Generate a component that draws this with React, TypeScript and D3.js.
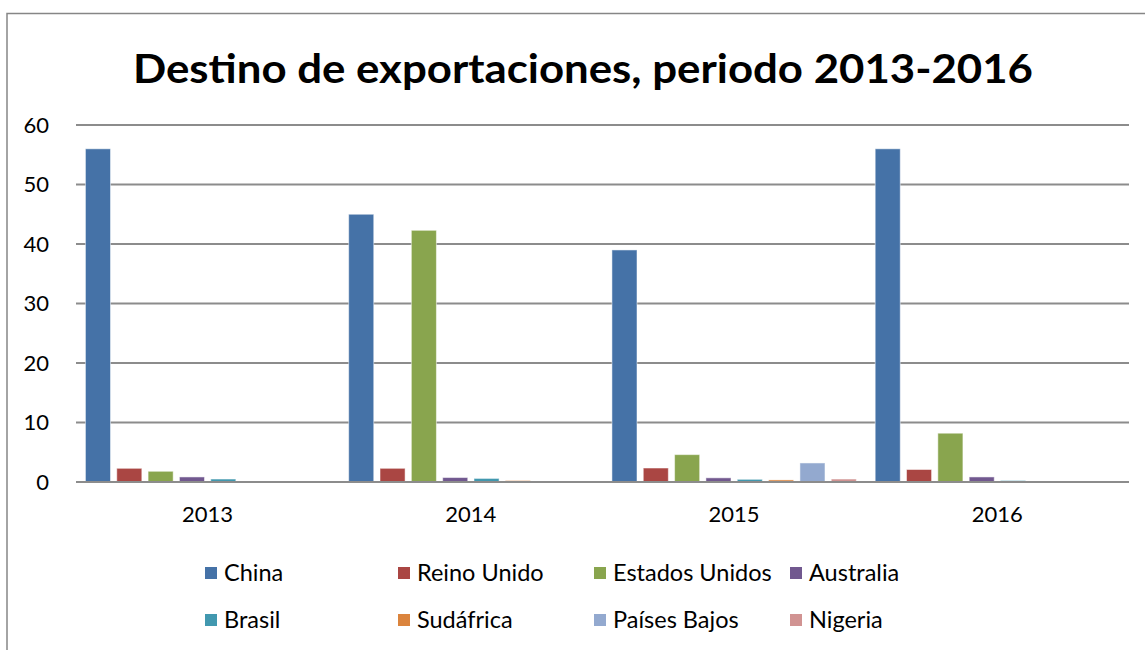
import React from "react";
import * as d3 from "d3";

const years = ["2013", "2014", "2015", "2016"];
const seriesNames = ["China", "Reino Unido", "Estados Unidos", "Australia", "Brasil", "Sudáfrica", "Países Bajos", "Nigeria"];
const china = [56, 45, 39, 56];
const reinoUnido = [2.3, 2.3, 2.35, 2.1];
const estadosUnidos = [1.8, 42.3, 4.6, 8.2];
const australia = [0.85, 0.75, 0.7, 0.85];
const brasil = [0.5, 0.6, 0.45, 0.25];
const sudafrica = [0.15, 0.25, 0.35, 0.15];
const paisesBajos = [0, 0, 3.2, 0];
const nigeria = [0, 0, 0.5, 0];
const yTicks = [0, 10, 20, 30, 40, 50, 60];
const colors = ["#4572A7", "#AA4643", "#89A54E", "#71588F", "#4198AF", "#DB843D", "#93A9CF", "#D19392"];

const seriesValues = [china, reinoUnido, estadosUnidos, australia, brasil, sudafrica, paisesBajos, nigeria];

const W = 1145;
const H = 650;
const plotLeft = 76;
const plotRight = 1129;
const plotTop = 125;
const plotBottom = 482;
const FONT = "Lato, 'Open Sans', sans-serif";

export default function App() {
  const x0 = d3.scaleBand<string>().domain(years).range([plotLeft, plotRight]).paddingInner(0).paddingOuter(0);
  const x1 = d3
    .scaleBand<string>()
    .domain(seriesNames)
    .range([6.3, x0.bandwidth() - 6.3])
    .paddingInner(0.2)
    .paddingOuter(0.1);
  const y = d3.scaleLinear().domain([0, 60]).range([plotBottom, plotTop]);

  const legendCols = [205, 398, 594, 790];
  const legendRows = [573, 620];

  return (
    <div style={{ position: "absolute", left: 0, top: 0 }}>
      <svg width={W} height={H} style={{ display: "block", background: "#fff" }}>
        <rect x={7} y={13.5} width={1150} height={700} fill="#fff" stroke="#868686" strokeWidth={1.5} />
        <text
          x={583}
          y={83}
          textAnchor="middle"
          fontFamily={FONT}
          fontWeight="bold"
          fontSize={41}
          textLength={900}
          lengthAdjust="spacingAndGlyphs"
          fill="#000"
        >
          Destino de exportaciones, periodo 2013-2016
        </text>
        {yTicks.map((t) => (
          <g key={t}>
            <line x1={plotLeft} x2={plotRight} y1={y(t)} y2={y(t)} stroke="#8c8c8c" strokeWidth={1.8} />
            <text x={49} y={y(t) + 7.5} textAnchor="end" fontFamily={FONT} fontSize={22} fill="#000">
              {t}
            </text>
          </g>
        ))}
        {years.map((yr, i) => (
          <g key={yr} transform={`translate(${x0(yr)},0)`}>
            {seriesNames.map((s, j) => {
              const v = seriesValues[j][i];
              if (v <= 0) return null;
              return (
                <rect
                  key={s}
                  x={x1(s)}
                  y={y(v)}
                  width={x1.bandwidth()}
                  height={plotBottom - y(v)}
                  fill={colors[j]}
                  stroke="#ffffff"
                  strokeOpacity={0.5}
                  strokeWidth={1}
                />
              );
            })}
            <text
              x={x0.bandwidth() / 2}
              y={522}
              textAnchor="middle"
              fontFamily={FONT}
              fontSize={22}
              fill="#000"
            >
              {yr}
            </text>
          </g>
        ))}
        <line x1={plotLeft} x2={plotRight} y1={plotBottom} y2={plotBottom} stroke="#8c8c8c" strokeWidth={1.8} />
        {seriesNames.map((s, j) => {
          const cx = legendCols[j % 4];
          const cy = legendRows[Math.floor(j / 4)];
          return (
            <g key={s}>
              <rect x={cx} y={cy - 6} width={12} height={12} fill={colors[j]} />
              <text x={cx + 19} y={cy + 8} fontFamily={FONT} fontSize={23.5} fill="#000">
                {s}
              </text>
            </g>
          );
        })}
      </svg>
    </div>
  );
}
